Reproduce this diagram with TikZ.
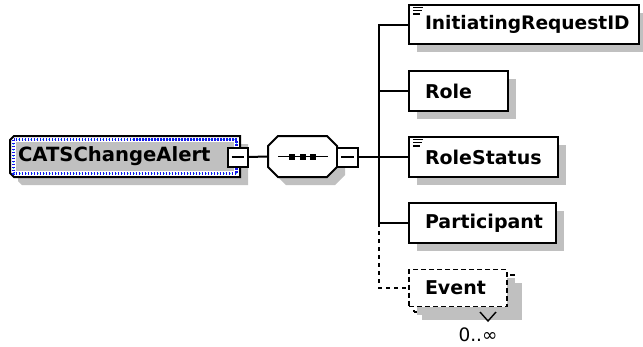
\documentclass[tikz,border=0pt]{standalone}
\usepackage{fontspec}
\newfontfamily\dejavu{DejaVu Sans}
\usetikzlibrary{shadows}
\definecolor{shd}{RGB}{192,192,192}
\definecolor{dotblue}{RGB}{20,20,235}
\definecolor{dotcyan}{RGB}{40,230,240}
\pgfdeclarelayer{bg}
\pgfsetlayers{bg,main}
\tikzset{
  elfont/.style={font=\dejavu\bfseries\fontsize{19}{22}\selectfont},
  conn/.style={line width=2pt, black},
  dconn/.style={conn, dash pattern=on 4pt off 4pt},
  shadowed/.style={general shadow={fill=shd, shadow xshift=8pt, shadow yshift=-8pt}},
  elbox/.style={draw, line width=2pt, fill=white, shadowed, elfont, outer sep=0pt,
    inner xsep=16pt, inner ysep=0pt, minimum height=40pt, align=left, anchor=west},
  optbox/.style={elbox, line width=1.6pt, dash pattern=on 5pt off 3pt},
  minusbox/.style={draw, line width=2pt, fill=white, minimum width=20pt, minimum height=19pt,
    inner sep=0pt, outer sep=0pt,
    path picture={\draw[line width=1.6pt] ([xshift=4pt]path picture bounding box.west) -- ([xshift=-4pt]path picture bounding box.east);}},
  hold/.style={draw=none, outer sep=0pt, inner sep=0pt},
  iconline/.style={line width=1.1pt, black},
}
\begin{document}
\begin{tikzpicture}[x=1pt,y=-1pt]
\useasboundingbox (0,0) rectangle (643,346);

% root element
\node[hold, elfont, font=\dejavu\bfseries\fontsize{19.6}{22}\selectfont, minimum width=230pt, minimum height=41pt, text width=214pt, inner xsep=8pt, align=left] (root) at (125,156.5) {CATSChangeAlert};
\begin{pgfonlayer}{bg}
  \fill[shd] ([shift={(12,8)}]root.north west) -- ([shift={(8,8)}]root.north east) -- ([shift={(8,8)}]root.south east)
    -- ([shift={(12,8)}]root.south west) -- ([shift={(8,4)}]root.south west) -- ([shift={(8,12)}]root.north west) -- cycle;
  \filldraw[fill=white, line width=2pt] ([shift={(4,0)}]root.north west) -- (root.north east) -- (root.south east)
    -- ([shift={(4,0)}]root.south west) -- ([shift={(0,-4)}]root.south west) -- ([shift={(0,4)}]root.north west) -- cycle;
  \fill[shd] ([shift={(6,6)}]root.north west) rectangle ([shift={(-6,-6)}]root.south east);
  \draw[dotblue, line width=3.4pt, dash pattern=on 1.5pt off 1.5pt] ([shift={(3.5,3.5)}]root.north west) rectangle ([shift={(-3.5,-3.5)}]root.south east);
  \draw[dotcyan, line width=1.4pt, dash pattern=on 1.2pt off 4.8pt, dash phase=1.5pt] ([shift={(3.5,3.5)}]root.north west) rectangle ([shift={(-3.5,-3.5)}]root.south east);
\end{pgfonlayer}
\node[minusbox] (m1) at (237.5,157) {};

% sequence compositor
\node[hold, minimum width=69pt, minimum height=41pt] (seq) at (302.5,156.5) {};
\fill[shd] ([shift={(18,8)}]seq.north west) -- ([shift={(-2,8)}]seq.north east) -- ([shift={(8,18)}]seq.north east)
  -- ([shift={(8,-2)}]seq.south east) -- ([shift={(-2,8)}]seq.south east) -- ([shift={(18,8)}]seq.south west)
  -- ([shift={(8,-2)}]seq.south west) -- ([shift={(8,18)}]seq.north west) -- cycle;
\filldraw[fill=white, line width=2pt] ([shift={(10,0)}]seq.north west) -- ([shift={(-10,0)}]seq.north east) -- ([shift={(0,10)}]seq.north east)
  -- ([shift={(0,-10)}]seq.south east) -- ([shift={(-10,0)}]seq.south east) -- ([shift={(10,0)}]seq.south west)
  -- ([shift={(0,-10)}]seq.south west) -- ([shift={(0,10)}]seq.north west) -- cycle;
\draw[line width=1.6pt] ([xshift=10pt]seq.west) -- ([xshift=-9pt]seq.east);
\foreach \dx in {-10.5,0,10.5} \fill ([shift={(\dx,0)}]seq.center) +(-3,-3) rectangle +(3,3);
\node[minusbox, minimum width=21pt] (m2) at (347.5,157) {};

\coordinate (bus) at (379,157);

% children
\node[elbox, text width=198pt, minimum height=39pt, font=\dejavu\bfseries\fontsize{18.6}{22}\selectfont] (irid) at (409,24.5) {InitiatingRequestID};
\node[elbox, text width=67pt] (role) at (409,91) {Role};
\node[elbox, text width=117pt] (rstat) at (409,157) {RoleStatus};
\node[elbox, text width=115pt] (part) at (409,223) {Participant};
\node[optbox, text width=68pt, minimum height=37pt] (ev2) at (414,293.5) {};
\node[optbox, general shadow={}, text width=66pt, minimum height=37pt] (ev) at (409,288) {Event};
\draw[line width=1.4pt] ([shift={(16,0)}]ev2.south) -- ([shift={(24,9)}]ev2.south) -- ([shift={(32,0)}]ev2.south);
\node[font=\dejavu\fontsize{18.5}{18.5}\selectfont, inner sep=0pt] (mult) at (478,335) {0..∞};

% simple type icons
\foreach \n in {irid,rstat} {
  \draw[iconline] ([shift={(4,2.4)}]\n.north west) -- +(10,0);
  \draw[iconline] ([shift={(4,5.7)}]\n.north west) -- +(9,0);
  \draw[iconline] ([shift={(4,9)}]\n.north west) -- +(7,0);
}

% connectors
\draw[conn] (m1.east) -- (seq.west);
\draw[conn] (m2.east) -- (bus);
\draw[conn] (bus) |- (irid.west);
\draw[conn] (bus) |- (role.west);
\draw[conn] (bus) -- (rstat.west);
\draw[conn] (bus) |- (part.west);
\draw[dconn] (part.west -| bus) |- (ev.west);
\end{tikzpicture}
\end{document}
